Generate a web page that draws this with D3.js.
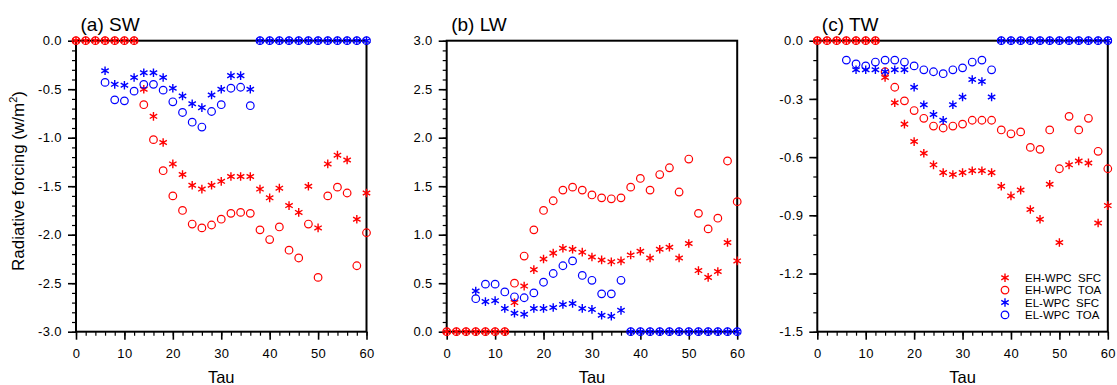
<!DOCTYPE html>
<html>
<head>
<meta charset="utf-8">
<script src="https://cdn.jsdelivr.net/npm/d3@7"></script>
<style>
  body { margin: 0; background: #fff; }
  text { font-family: "Liberation Sans", Arial, sans-serif; }
</style>
</head>
<body>
<div id="chart"></div>
<script>
// tau, every 2 steps
const tau = [0, 2, 4, 6, 8, 10, 12, 14, 16, 18, 20, 22, 24, 26, 28, 30,
    32, 34, 36, 38, 40, 42, 44, 46, 48, 50, 52, 54, 56, 58, 60];

// (a) SW
const swEhSfc = [0, 0, 0, 0, 0, 0, 0, -0.50, -0.78, -1.05, -1.27, -1.38, -1.49, -1.53, -1.49, -1.45,
    -1.40, -1.40, -1.40, -1.53, -1.62, -1.52, -1.70, -1.77, -1.50, -1.93, -1.27, -1.18, -1.23, -1.84, -1.57];
const swEhToa = [0, 0, 0, 0, 0, 0, 0, -0.66, -1.02, -1.34, -1.60, -1.75, -1.89, -1.93, -1.90, -1.84,
    -1.78, -1.77, -1.78, -1.95, -2.05, -1.92, -2.16, -2.24, -1.89, -2.44, -1.60, -1.51, -1.57, -2.32, -1.98];
const swElSfc = [null, null, null, -0.31, -0.45, -0.46, -0.38, -0.33, -0.33, -0.38, -0.49, -0.57, -0.65, -0.69, -0.56, -0.50,
    -0.36, -0.36, -0.50, 0, 0, 0, 0, 0, 0, 0, 0, 0, 0, 0, 0];
const swElToa = [null, null, null, -0.43, -0.61, -0.62, -0.52, -0.45, -0.45, -0.51, -0.63, -0.74, -0.84, -0.89, -0.73, -0.66,
    -0.49, -0.48, -0.67, 0, 0, 0, 0, 0, 0, 0, 0, 0, 0, 0, 0];

// (b) LW
const lwEhSfc = [0, 0, 0, 0, 0, 0, 0, 0.30, 0.47, 0.64, 0.75, 0.81, 0.86, 0.85, 0.82, 0.77,
    0.74, 0.72, 0.73, 0.79, 0.83, 0.76, 0.85, 0.87, 0.76, 0.91, 0.63, 0.56, 0.62, 0.92, 0.73];
const lwEhToa = [0, 0, 0, 0, 0, 0, 0, 0.50, 0.78, 1.05, 1.25, 1.35, 1.46, 1.49, 1.46, 1.41,
    1.38, 1.37, 1.38, 1.49, 1.58, 1.46, 1.62, 1.69, 1.44, 1.78, 1.22, 1.06, 1.17, 1.76, 1.34];
const lwElSfc = [null, null, null, 0.42, 0.31, 0.32, 0.24, 0.19, 0.18, 0.24, 0.24, 0.25, 0.28, 0.29, 0.24, 0.23,
    0.17, 0.16, 0.22, 0, 0, 0, 0, 0, 0, 0, 0, 0, 0, 0, 0];
const lwElToa = [null, null, null, 0.34, 0.49, 0.49, 0.41, 0.36, 0.35, 0.40, 0.51, 0.60, 0.68, 0.73, 0.58, 0.53,
    0.39, 0.39, 0.53, 0, 0, 0, 0, 0, 0, 0, 0, 0, 0, 0, 0];

// (c) TW
const twEhSfc = [0, 0, 0, 0, 0, 0, 0, -0.19, -0.32, -0.43, -0.52, -0.58, -0.64, -0.68, -0.69, -0.68,
    -0.67, -0.67, -0.68, -0.75, -0.80, -0.77, -0.87, -0.92, -0.74, -1.04, -0.64, -0.62, -0.63, -0.94, -0.85];
const twEhToa = [0, 0, 0, 0, 0, 0, 0, -0.16, -0.24, -0.31, -0.36, -0.40, -0.44, -0.45, -0.44, -0.43,
    -0.41, -0.41, -0.41, -0.46, -0.48, -0.47, -0.55, -0.56, -0.46, -0.66, -0.39, -0.46, -0.40, -0.57, -0.66];
const twElSfc = [null, null, null, null, -0.15, -0.15, -0.15, -0.16, -0.15, -0.15, -0.24, -0.33, -0.38, -0.41, -0.33, -0.29,
    -0.20, -0.21, -0.29, 0, 0, 0, 0, 0, 0, 0, 0, 0, 0, 0, 0];
const twElToa = [null, null, null, -0.10, -0.12, -0.13, -0.11, -0.10, -0.10, -0.11, -0.13, -0.15, -0.16, -0.17, -0.15, -0.14,
    -0.11, -0.10, -0.15, 0, 0, 0, 0, 0, 0, 0, 0, 0, 0, 0, 0];

const seriesNames = ['EH-WPC  SFC', 'EH-WPC  TOA', 'EL-WPC  SFC', 'EL-WPC  TOA'];
const seriesColors = ['#ff0000', '#ff0000', '#0000ff', '#0000ff'];
const seriesMarkers = ['star', 'circle', 'star', 'circle'];

const panels = [
    { title: '(a) SW', left: 76, domain: [-3, 0], major: 0.5, series: [swEhSfc, swEhToa, swElSfc, swElToa] },
    { title: '(b) LW', left: 446.7, domain: [0, 3], major: 0.5, series: [lwEhSfc, lwEhToa, lwElSfc, lwElToa] },
    { title: '(c) TW', left: 817.3, domain: [-1.5, 0], major: 0.3, series: [twEhSfc, twEhToa, twElSfc, twElToa] }
];

const width = 1117, height = 385;
const plotTop = 40.7, plotH = 291, plotW = 290.5;
const tickFont = 13;

const svg = d3.select('#chart')
    .append('svg')
    .attr('width', width)
    .attr('height', height);

const starPath = (() => {
    const r = 4.3;
    let p = '';
    [90, 30, 150].forEach(a => {
        const rad = a * Math.PI / 180;
        const dx = r * Math.cos(rad), dy = r * Math.sin(rad);
        p += `M${-dx},${-dy}L${dx},${dy}`;
    });
    return p;
})();

function drawMarker(g, type, color, x, y) {
    if (type === 'circle') {
        g.append('circle')
            .attr('cx', x).attr('cy', y).attr('r', 3.8)
            .attr('fill', 'none')
            .attr('stroke', color)
            .attr('stroke-width', 1.2);
    } else {
        g.append('path')
            .attr('d', starPath)
            .attr('transform', `translate(${x},${y})`)
            .attr('fill', 'none')
            .attr('stroke', color)
            .attr('stroke-width', 1.4);
    }
}

panels.forEach(p => {
    const g = svg.append('g').attr('transform', `translate(${p.left},${plotTop})`);

    const x = d3.scaleLinear().domain([0, 60]).range([0, plotW]);
    const y = d3.scaleLinear().domain(p.domain).range([plotH, 0]);

    const nMajor = Math.round((p.domain[1] - p.domain[0]) / p.major);
    const yMajor = d3.range(nMajor + 1).map(i => +(p.domain[0] + i * p.major).toFixed(2));
    const nMinor = Math.round((p.domain[1] - p.domain[0]) / 0.1);
    const yMinor = d3.range(nMinor + 1).map(i => +(p.domain[0] + i * 0.1).toFixed(2));

    // minor ticks
    g.append('g')
        .call(d3.axisLeft(y).tickValues(yMinor).tickSize(4).tickSizeOuter(0).tickFormat(''))
        .call(s => s.select('.domain').remove())
        .call(s => s.selectAll('line').attr('stroke-width', 1.2));
    g.append('g')
        .attr('transform', `translate(0,${plotH})`)
        .call(d3.axisBottom(x).tickValues(d3.range(0, 61, 2)).tickSize(4).tickSizeOuter(0).tickFormat(''))
        .call(s => s.select('.domain').remove())
        .call(s => s.selectAll('line').attr('stroke-width', 1.2));

    // major ticks
    g.append('g')
        .call(d3.axisLeft(y).tickValues(yMajor).tickSize(8).tickPadding(6).tickSizeOuter(0)
            .tickFormat(d => Math.abs(d) < 1e-9 ? '0.0' : d.toFixed(1)))
        .call(s => s.select('.domain').remove())
        .call(s => s.selectAll('line').attr('stroke-width', 1.6))
        .call(s => s.selectAll('text').attr('font-size', tickFont).attr('letter-spacing', 0.4)
            .attr('font-family', '"Liberation Sans", Arial, sans-serif'));
    g.append('g')
        .attr('transform', `translate(0,${plotH})`)
        .call(d3.axisBottom(x).tickValues(d3.range(0, 61, 10)).tickSize(8).tickPadding(9).tickSizeOuter(0))
        .call(s => s.select('.domain').remove())
        .call(s => s.selectAll('line').attr('stroke-width', 1.6))
        .call(s => s.selectAll('text').attr('font-size', tickFont).attr('letter-spacing', 0.4)
            .attr('font-family', '"Liberation Sans", Arial, sans-serif'));

    // frame
    g.append('rect')
        .attr('width', plotW).attr('height', plotH)
        .attr('fill', 'none')
        .attr('stroke', '#000')
        .attr('stroke-width', 2);

    // markers
    p.series.forEach((vals, si) => {
        vals.forEach((v, i) => {
            if (v === null) return;
            drawMarker(g, seriesMarkers[si], seriesColors[si], x(tau[i]), y(v));
        });
    });

    g.append('text')
        .attr('x', 4.5).attr('y', -9.7)
        .attr('font-size', 19)
        .text(p.title);

    g.append('text')
        .attr('x', plotW / 2).attr('y', plotH + 51)
        .attr('text-anchor', 'middle')
        .attr('font-size', 16.5)
        .text('Tau');
});

// y label
const yl = svg.append('text')
    .attr('transform', 'translate(24,181) rotate(-90)')
    .attr('text-anchor', 'middle')
    .attr('font-size', 17);
yl.append('tspan').text('Radiative forcing (w/m');
yl.append('tspan').attr('dy', -7).attr('font-size', 11).text('2');
yl.append('tspan').attr('dy', 7).text(')');

// legend in panel (c)
const leg = svg.append('g').attr('transform', 'translate(1005,277.7)');
seriesNames.forEach((name, i) => {
    drawMarker(leg, seriesMarkers[i], seriesColors[i], 0, i * 12.4);
    leg.append('text')
        .attr('x', 20).attr('y', i * 12.4 + 4.2)
        .attr('font-size', 11.5)
        .style('white-space', 'pre')
        .text(name);
});
</script>
</body>
</html>
